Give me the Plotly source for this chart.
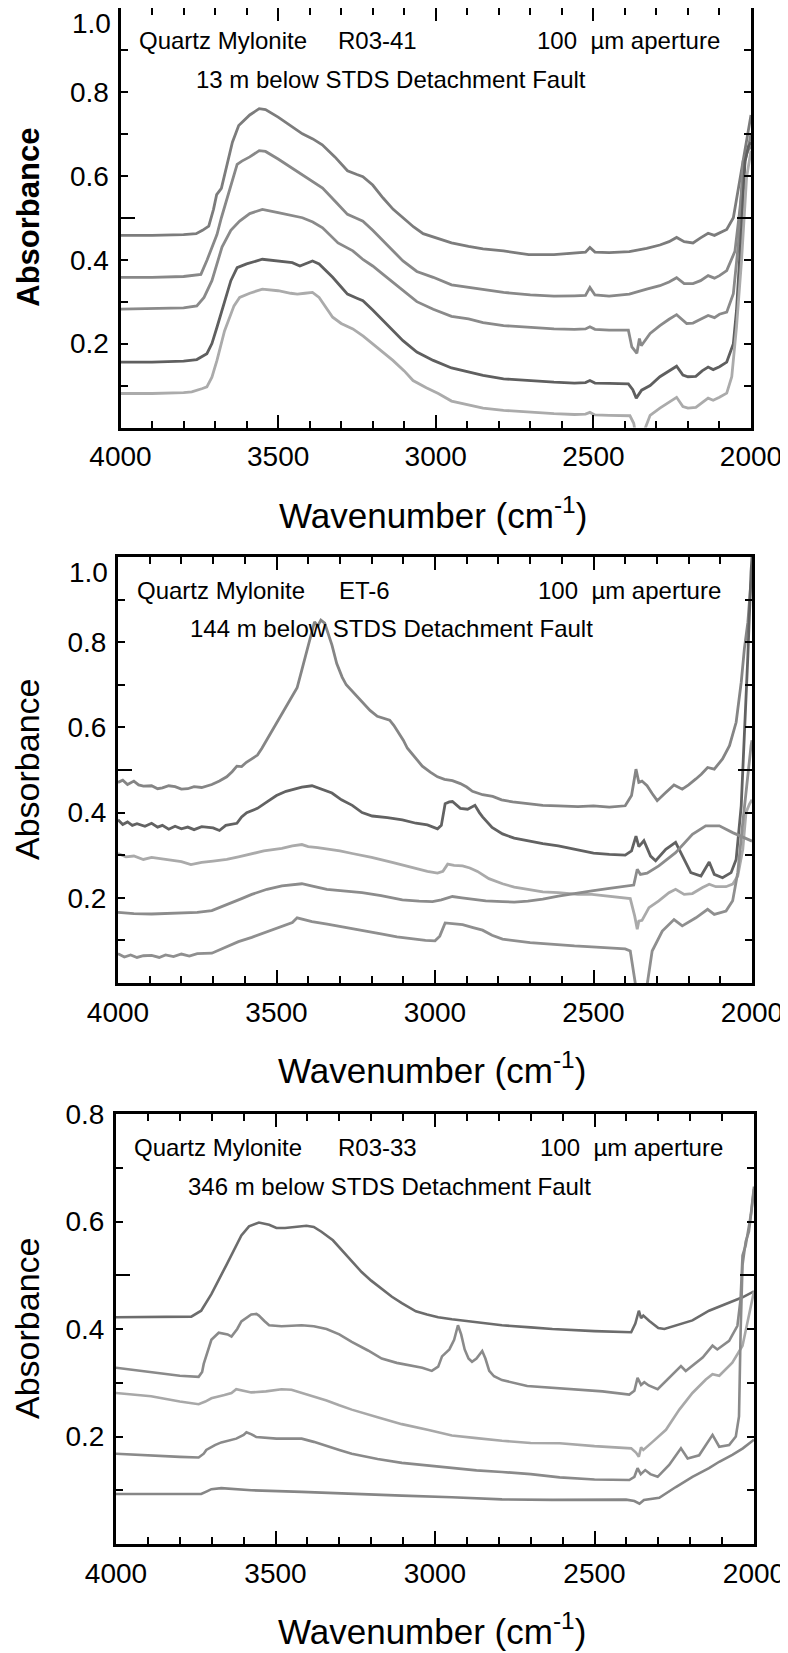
import plotly.graph_objects as go

# page is 788x1653; the html body adds an 8px margin, so the figure is
# drawn 8px in from the top-left corner of the page.
PAGE_W, PAGE_H = 788, 1653
OFF = 8
W, H = PAGE_W - OFF, PAGE_H - OFF

# ================= Panel 1 : R03-41 (13 m below STDS) =================
p1_a_wn = [4000, 3900, 3800, 3760, 3740, 3720, 3705, 3695, 3680, 3665, 3645, 3625, 3610, 3590, 3560, 3540, 3500, 3460, 3423, 3390, 3360, 3320, 3280, 3250, 3231, 3200, 3167, 3135, 3104, 3070, 3040, 3000, 2950, 2896, 2850, 2785, 2705, 2625, 2560, 2525, 2511, 2495, 2450, 2386, 2331, 2289, 2260, 2236, 2212, 2184, 2160, 2136, 2116, 2100, 2077, 2056, 2040, 2026, 2013, 2005, 2000]
p1_a_ab = [0.458, 0.458, 0.460, 0.462, 0.470, 0.480, 0.520, 0.555, 0.570, 0.620, 0.680, 0.720, 0.730, 0.745, 0.760, 0.758, 0.740, 0.720, 0.700, 0.688, 0.674, 0.645, 0.612, 0.603, 0.598, 0.578, 0.547, 0.520, 0.500, 0.478, 0.462, 0.452, 0.440, 0.432, 0.426, 0.421, 0.412, 0.412, 0.416, 0.418, 0.429, 0.418, 0.417, 0.419, 0.427, 0.435, 0.443, 0.453, 0.443, 0.440, 0.452, 0.463, 0.458, 0.464, 0.472, 0.500, 0.571, 0.635, 0.690, 0.720, 0.745]

p1_b_wn = [4000, 3900, 3800, 3745, 3725, 3705, 3694, 3680, 3660, 3640, 3630, 3615, 3590, 3560, 3540, 3500, 3460, 3423, 3390, 3359, 3320, 3280, 3250, 3231, 3200, 3167, 3135, 3104, 3060, 3008, 2950, 2896, 2850, 2785, 2700, 2625, 2560, 2525, 2511, 2495, 2450, 2386, 2331, 2289, 2260, 2236, 2212, 2184, 2160, 2136, 2116, 2100, 2077, 2051, 2036, 2019, 2008, 2000]
p1_b_ab = [0.358, 0.358, 0.360, 0.365, 0.400, 0.440, 0.460, 0.500, 0.550, 0.600, 0.627, 0.635, 0.645, 0.660, 0.658, 0.640, 0.620, 0.603, 0.585, 0.571, 0.540, 0.508, 0.498, 0.492, 0.470, 0.445, 0.420, 0.397, 0.372, 0.358, 0.340, 0.334, 0.328, 0.322, 0.316, 0.313, 0.314, 0.315, 0.334, 0.316, 0.313, 0.318, 0.330, 0.338, 0.347, 0.357, 0.343, 0.343, 0.350, 0.362, 0.356, 0.362, 0.374, 0.420, 0.516, 0.635, 0.670, 0.700]

p1_c_wn = [4000, 3900, 3800, 3758, 3735, 3710, 3695, 3678, 3650, 3622, 3590, 3550, 3500, 3460, 3423, 3390, 3359, 3310, 3263, 3230, 3200, 3167, 3135, 3104, 3060, 3008, 2950, 2896, 2850, 2785, 2700, 2625, 2560, 2525, 2511, 2495, 2450, 2389, 2378, 2362, 2354, 2348, 2320, 2289, 2260, 2236, 2204, 2184, 2160, 2136, 2116, 2100, 2077, 2056, 2040, 2025, 2010, 2000]
p1_c_ab = [0.282, 0.283, 0.285, 0.290, 0.310, 0.350, 0.390, 0.430, 0.470, 0.492, 0.510, 0.520, 0.512, 0.505, 0.500, 0.490, 0.476, 0.440, 0.421, 0.400, 0.385, 0.365, 0.345, 0.326, 0.300, 0.282, 0.265, 0.259, 0.250, 0.243, 0.238, 0.235, 0.234, 0.235, 0.240, 0.234, 0.232, 0.232, 0.192, 0.177, 0.212, 0.195, 0.224, 0.243, 0.258, 0.269, 0.248, 0.249, 0.258, 0.267, 0.262, 0.270, 0.275, 0.319, 0.438, 0.635, 0.660, 0.670]

p1_d_wn = [4000, 3900, 3800, 3758, 3726, 3710, 3694, 3670, 3650, 3630, 3600, 3550, 3500, 3455, 3431, 3410, 3391, 3370, 3327, 3300, 3280, 3250, 3231, 3200, 3167, 3135, 3104, 3060, 3008, 2950, 2896, 2850, 2785, 2700, 2625, 2560, 2525, 2511, 2495, 2450, 2389, 2375, 2364, 2347, 2320, 2289, 2260, 2236, 2216, 2200, 2175, 2155, 2136, 2120, 2100, 2077, 2056, 2046, 2030, 2019, 2008, 2000]
p1_d_ab = [0.156, 0.156, 0.158, 0.162, 0.176, 0.200, 0.239, 0.300, 0.350, 0.381, 0.390, 0.401, 0.397, 0.393, 0.385, 0.392, 0.397, 0.390, 0.358, 0.335, 0.318, 0.308, 0.302, 0.280, 0.255, 0.230, 0.207, 0.180, 0.160, 0.142, 0.132, 0.124, 0.116, 0.111, 0.108, 0.106, 0.107, 0.112, 0.106, 0.105, 0.104, 0.090, 0.070, 0.089, 0.100, 0.121, 0.134, 0.146, 0.125, 0.121, 0.122, 0.135, 0.144, 0.138, 0.145, 0.156, 0.200, 0.279, 0.477, 0.635, 0.670, 0.680]

p1_e_wn = [4000, 3900, 3800, 3774, 3740, 3726, 3710, 3694, 3670, 3640, 3622, 3590, 3550, 3500, 3460, 3439, 3415, 3391, 3370, 3327, 3300, 3263, 3230, 3199, 3170, 3136, 3100, 3072, 3030, 2992, 2950, 2896, 2850, 2785, 2700, 2625, 2560, 2525, 2511, 2495, 2450, 2384, 2372, 2365, 2350, 2340, 2320, 2289, 2260, 2236, 2216, 2200, 2175, 2155, 2136, 2120, 2100, 2077, 2061, 2046, 2030, 2014, 2005, 2000]
p1_e_ab = [0.081, 0.081, 0.083, 0.085, 0.093, 0.097, 0.120, 0.160, 0.230, 0.290, 0.310, 0.320, 0.330, 0.326, 0.320, 0.318, 0.320, 0.322, 0.310, 0.263, 0.248, 0.235, 0.218, 0.199, 0.180, 0.160, 0.135, 0.112, 0.095, 0.081, 0.063, 0.053, 0.046, 0.041, 0.036, 0.033, 0.031, 0.032, 0.036, 0.030, 0.029, 0.028, 0.010, -0.020, -0.030, -0.010, 0.029, 0.046, 0.060, 0.072, 0.050, 0.046, 0.048, 0.060, 0.070, 0.065, 0.072, 0.082, 0.121, 0.239, 0.398, 0.596, 0.640, 0.660]

# ================= Panel 2 : ET-6 (144 m below STDS) =================
p2_a_wn = [4000, 3985, 3970, 3950, 3935, 3920, 3894, 3875, 3860, 3840, 3820, 3800, 3780, 3760, 3736, 3704, 3680, 3657, 3640, 3625, 3610, 3595, 3578, 3560, 3546, 3525, 3506, 3490, 3467, 3450, 3435, 3420, 3408, 3396, 3388, 3380, 3370, 3360, 3348, 3336, 3325, 3310, 3293, 3280, 3261, 3245, 3230, 3205, 3182, 3160, 3143, 3130, 3119, 3100, 3087, 3065, 3040, 3015, 2992, 2970, 2945, 2920, 2900, 2882, 2850, 2818, 2790, 2755, 2700, 2660, 2611, 2549, 2500, 2450, 2400, 2380, 2366, 2357, 2347, 2331, 2315, 2299, 2272, 2246, 2220, 2200, 2177, 2160, 2140, 2119, 2093, 2071, 2050, 2034, 2024, 2013, 2005, 2000]
p2_a_ab = [0.471, 0.476, 0.466, 0.474, 0.465, 0.462, 0.463, 0.456, 0.458, 0.463, 0.461, 0.455, 0.456, 0.461, 0.459, 0.466, 0.474, 0.484, 0.496, 0.509, 0.508, 0.518, 0.526, 0.535, 0.551, 0.578, 0.601, 0.620, 0.651, 0.672, 0.693, 0.735, 0.770, 0.802, 0.830, 0.848, 0.838, 0.852, 0.845, 0.820, 0.793, 0.750, 0.718, 0.700, 0.685, 0.670, 0.659, 0.640, 0.626, 0.620, 0.617, 0.605, 0.592, 0.570, 0.551, 0.530, 0.509, 0.495, 0.484, 0.478, 0.475, 0.468, 0.460, 0.450, 0.442, 0.438, 0.430, 0.425, 0.420, 0.417, 0.416, 0.414, 0.416, 0.413, 0.416, 0.440, 0.502, 0.471, 0.474, 0.463, 0.445, 0.428, 0.447, 0.465, 0.455, 0.465, 0.479, 0.490, 0.506, 0.502, 0.526, 0.557, 0.612, 0.706, 0.785, 0.847, 0.926, 0.960]

p2_b_wn = [4000, 3985, 3970, 3955, 3940, 3915, 3894, 3875, 3860, 3840, 3820, 3800, 3780, 3760, 3736, 3700, 3680, 3660, 3625, 3610, 3594, 3560, 3530, 3500, 3470, 3451, 3420, 3388, 3360, 3325, 3295, 3261, 3230, 3198, 3150, 3103, 3060, 3024, 2992, 2980, 2968, 2955, 2945, 2920, 2897, 2874, 2860, 2850, 2820, 2787, 2750, 2707, 2660, 2611, 2549, 2500, 2450, 2400, 2380, 2366, 2357, 2341, 2320, 2304, 2272, 2241, 2214, 2193, 2161, 2135, 2119, 2093, 2066, 2050, 2034, 2024, 2013, 2003, 2000]
p2_b_ab = [0.383, 0.372, 0.378, 0.370, 0.374, 0.368, 0.375, 0.366, 0.370, 0.361, 0.368, 0.362, 0.366, 0.360, 0.367, 0.364, 0.358, 0.370, 0.375, 0.390, 0.400, 0.410, 0.425, 0.440, 0.450, 0.454, 0.460, 0.463, 0.455, 0.446, 0.430, 0.417, 0.400, 0.392, 0.388, 0.383, 0.375, 0.371, 0.362, 0.370, 0.421, 0.425, 0.426, 0.410, 0.408, 0.417, 0.400, 0.390, 0.365, 0.350, 0.340, 0.333, 0.327, 0.322, 0.312, 0.305, 0.302, 0.300, 0.310, 0.345, 0.320, 0.334, 0.298, 0.287, 0.314, 0.330, 0.290, 0.259, 0.251, 0.284, 0.255, 0.247, 0.259, 0.290, 0.416, 0.573, 0.769, 0.965, 1.000]

p2_c_wn = [4000, 3975, 3950, 3920, 3894, 3850, 3800, 3770, 3736, 3700, 3657, 3620, 3578, 3540, 3483, 3450, 3420, 3400, 3370, 3341, 3300, 3261, 3200, 3135, 3080, 3024, 2992, 2975, 2960, 2940, 2913, 2890, 2866, 2830, 2787, 2750, 2707, 2660, 2611, 2549, 2505, 2450, 2400, 2384, 2370, 2362, 2357, 2347, 2325, 2294, 2262, 2241, 2214, 2188, 2156, 2135, 2114, 2082, 2061, 2045, 2029, 2019, 2008, 2000]
p2_c_ab = [0.304, 0.296, 0.298, 0.290, 0.295, 0.290, 0.285, 0.278, 0.283, 0.286, 0.290, 0.296, 0.304, 0.310, 0.316, 0.322, 0.325, 0.320, 0.318, 0.315, 0.310, 0.304, 0.295, 0.283, 0.272, 0.262, 0.258, 0.262, 0.279, 0.276, 0.275, 0.270, 0.262, 0.245, 0.233, 0.225, 0.220, 0.214, 0.212, 0.208, 0.208, 0.204, 0.200, 0.198, 0.157, 0.126, 0.145, 0.147, 0.177, 0.193, 0.212, 0.220, 0.208, 0.210, 0.224, 0.232, 0.226, 0.226, 0.232, 0.251, 0.314, 0.400, 0.420, 0.430]

p2_d_wn = [4000, 3950, 3894, 3850, 3800, 3750, 3704, 3670, 3641, 3610, 3578, 3530, 3483, 3450, 3420, 3390, 3341, 3290, 3230, 3170, 3103, 3050, 3008, 2980, 2960, 2945, 2915, 2882, 2840, 2787, 2750, 2707, 2660, 2611, 2549, 2505, 2450, 2400, 2373, 2362, 2352, 2331, 2294, 2241, 2188, 2146, 2103, 2061, 2029, 2000]
p2_d_ab = [0.166, 0.163, 0.162, 0.163, 0.164, 0.166, 0.170, 0.180, 0.187, 0.198, 0.208, 0.220, 0.228, 0.230, 0.233, 0.228, 0.220, 0.216, 0.212, 0.205, 0.195, 0.192, 0.191, 0.195, 0.200, 0.203, 0.200, 0.197, 0.193, 0.191, 0.190, 0.192, 0.197, 0.204, 0.210, 0.216, 0.222, 0.228, 0.230, 0.267, 0.255, 0.258, 0.275, 0.306, 0.349, 0.369, 0.369, 0.353, 0.342, 0.333]

p2_e_wn = [4000, 3980, 3960, 3940, 3920, 3894, 3870, 3850, 3825, 3800, 3775, 3750, 3704, 3680, 3657, 3620, 3578, 3530, 3483, 3450, 3435, 3410, 3388, 3340, 3293, 3230, 3166, 3120, 3071, 3030, 3000, 2985, 2968, 2945, 2913, 2880, 2850, 2820, 2787, 2700, 2628, 2560, 2505, 2450, 2400, 2384, 2373, 2362, 2345, 2330, 2315, 2283, 2246, 2220, 2177, 2140, 2119, 2082, 2061, 2045, 2029, 2013, 2003, 2000]
p2_e_ab = [0.069, 0.061, 0.066, 0.060, 0.064, 0.065, 0.060, 0.066, 0.062, 0.068, 0.063, 0.069, 0.070, 0.078, 0.086, 0.097, 0.107, 0.120, 0.132, 0.142, 0.153, 0.148, 0.144, 0.138, 0.132, 0.123, 0.115, 0.108, 0.103, 0.100, 0.099, 0.110, 0.141, 0.139, 0.137, 0.130, 0.124, 0.112, 0.103, 0.095, 0.090, 0.087, 0.085, 0.082, 0.080, 0.075, 0.020, -0.030, -0.030, 0.000, 0.075, 0.122, 0.149, 0.134, 0.153, 0.173, 0.161, 0.169, 0.193, 0.259, 0.377, 0.495, 0.557, 0.570]

# ================= Panel 3 : R03-33 (346 m below STDS) =================
p3_a_wn = [4000, 3764, 3733, 3701, 3654, 3607, 3583, 3552, 3520, 3497, 3470, 3450, 3403, 3380, 3356, 3320, 3293, 3260, 3230, 3200, 3167, 3135, 3104, 3060, 3025, 2990, 2947, 2870, 2790, 2700, 2632, 2500, 2385, 2372, 2361, 2354, 2347, 2328, 2300, 2281, 2245, 2193, 2141, 2089, 2036, 2000]
p3_a_ab = [0.422, 0.423, 0.434, 0.465, 0.519, 0.574, 0.591, 0.598, 0.594, 0.588, 0.588, 0.589, 0.592, 0.590, 0.581, 0.565, 0.547, 0.527, 0.506, 0.490, 0.475, 0.460, 0.448, 0.433, 0.427, 0.422, 0.418, 0.413, 0.407, 0.403, 0.400, 0.396, 0.394, 0.410, 0.434, 0.420, 0.425, 0.415, 0.402, 0.400, 0.406, 0.416, 0.434, 0.447, 0.459, 0.470]

p3_b_wn = [4000, 3890, 3800, 3741, 3730, 3725, 3701, 3678, 3650, 3638, 3620, 3607, 3576, 3560, 3552, 3535, 3520, 3481, 3418, 3380, 3340, 3300, 3261, 3210, 3167, 3120, 3073, 3040, 3010, 2990, 2978, 2955, 2940, 2928, 2918, 2907, 2895, 2884, 2870, 2852, 2842, 2830, 2815, 2790, 2711, 2632, 2475, 2391, 2375, 2365, 2354, 2344, 2330, 2302, 2266, 2229, 2214, 2161, 2130, 2115, 2078, 2052, 2042, 2036, 2026, 2010, 2000]
p3_b_ab = [0.328, 0.320, 0.313, 0.311, 0.320, 0.335, 0.380, 0.393, 0.390, 0.386, 0.400, 0.414, 0.427, 0.428, 0.425, 0.415, 0.407, 0.405, 0.407, 0.405, 0.400, 0.390, 0.376, 0.360, 0.345, 0.337, 0.332, 0.328, 0.322, 0.330, 0.349, 0.362, 0.380, 0.407, 0.390, 0.362, 0.345, 0.339, 0.345, 0.359, 0.345, 0.322, 0.312, 0.305, 0.294, 0.291, 0.284, 0.278, 0.285, 0.309, 0.296, 0.301, 0.295, 0.288, 0.309, 0.331, 0.322, 0.347, 0.369, 0.362, 0.378, 0.406, 0.456, 0.537, 0.556, 0.612, 0.665]

p3_c_wn = [4000, 3890, 3800, 3741, 3720, 3701, 3660, 3638, 3623, 3600, 3576, 3530, 3481, 3450, 3418, 3380, 3340, 3300, 3261, 3180, 3104, 3020, 2947, 2870, 2790, 2700, 2609, 2500, 2385, 2370, 2361, 2354, 2347, 2318, 2276, 2234, 2193, 2151, 2130, 2109, 2068, 2036, 2016, 2005, 2000]
p3_c_ab = [0.281, 0.275, 0.265, 0.260, 0.265, 0.271, 0.277, 0.281, 0.288, 0.285, 0.282, 0.284, 0.288, 0.287, 0.281, 0.275, 0.267, 0.258, 0.250, 0.236, 0.223, 0.212, 0.202, 0.197, 0.192, 0.188, 0.1875, 0.182, 0.178, 0.170, 0.1625, 0.180, 0.175, 0.190, 0.2125, 0.250, 0.281, 0.306, 0.316, 0.313, 0.3375, 0.369, 0.425, 0.460, 0.470]

p3_d_wn = [4000, 3890, 3800, 3741, 3725, 3717, 3690, 3670, 3623, 3600, 3591, 3575, 3560, 3497, 3418, 3380, 3340, 3300, 3261, 3180, 3104, 3020, 2947, 2870, 2790, 2700, 2609, 2500, 2391, 2375, 2365, 2355, 2341, 2325, 2302, 2266, 2229, 2208, 2172, 2146, 2130, 2109, 2078, 2057, 2047, 2042, 2036, 2026, 2016, 2008, 2000]
p3_d_ab = [0.168, 0.164, 0.162, 0.161, 0.168, 0.175, 0.184, 0.189, 0.196, 0.203, 0.208, 0.204, 0.199, 0.196, 0.196, 0.190, 0.182, 0.175, 0.168, 0.158, 0.151, 0.146, 0.141, 0.137, 0.134, 0.130, 0.124, 0.120, 0.119, 0.125, 0.141, 0.130, 0.1375, 0.130, 0.125, 0.147, 0.178, 0.159, 0.165, 0.1875, 0.203, 0.181, 0.184, 0.200, 0.2375, 0.394, 0.519, 0.5625, 0.581, 0.620, 0.660]

p3_e_wn = [4000, 3800, 3733, 3715, 3701, 3670, 3640, 3576, 3418, 3261, 3104, 2947, 2790, 2632, 2500, 2401, 2375, 2359, 2345, 2297, 2245, 2193, 2141, 2109, 2068, 2035, 2000]
p3_e_ab = [0.093, 0.093, 0.093, 0.098, 0.102, 0.104, 0.103, 0.100, 0.097, 0.093, 0.090, 0.087, 0.083, 0.082, 0.0825, 0.0825, 0.080, 0.075, 0.082, 0.086, 0.106, 0.125, 0.141, 0.153, 0.166, 0.178, 0.194]

# ---- tick labels / text ----
x_tick_vals = [4000, 3500, 3000, 2500, 2000]
x_tick_text = ["4000", "3500", "3000", "2500", "2000"]
x_minor_vals = [3900, 3800, 3700, 3600, 3400, 3300, 3200, 3100, 2900, 2800, 2700, 2600, 2400, 2300, 2200, 2100]
y_tick_vals = [0.2, 0.4, 0.6, 0.8]
y_tick_text = ["0.2", "0.4", "0.6", "0.8"]
y_minor_vals = [0.1, 0.3, 0.5, 0.7, 0.9]
y_long_vals = [0.5]
top_label = "1.0"

sample_ids = ["R03-41", "ET-6", "R03-33"]
depth_text = ["13 m below STDS Detachment Fault",
              "144 m below STDS Detachment Fault",
              "346 m below STDS Detachment Fault"]
rock_text = "Quartz Mylonite"
aperture_text = "100  \u00b5m aperture"
x_title = "Wavenumber (cm<sup>-1</sup>)"
y_title = "Absorbance"

# ---------------- layout geometry (page pixels) ----------------
panels = [
    dict(l=120.5, r=751, t=8, b=427.5, ymax=1.0,
         series=[(p1_a_wn, p1_a_ab, "#7c7c7c"), (p1_b_wn, p1_b_ab, "#888888"),
                 (p1_c_wn, p1_c_ab, "#8a8a8a"), (p1_d_wn, p1_d_ab, "#5f5f5f"),
                 (p1_e_wn, p1_e_ab, "#ababab")],
         lw=2.8, ybold=True, ytsize=31, ytx=29, text_x=[137, 336, 535, 194]),
    dict(l=118, r=752, t=557, b=983, ymax=1.0,
         series=[(p2_a_wn, p2_a_ab, "#858585"), (p2_b_wn, p2_b_ab, "#626262"),
                 (p2_c_wn, p2_c_ab, "#aaaaaa"), (p2_d_wn, p2_d_ab, "#8c8c8c"),
                 (p2_e_wn, p2_e_ab, "#8f8f8f")],
         lw=2.8, ybold=False, ytsize=34, ytx=27, text_x=[135, 337, 536, 188]),
    dict(l=116, r=754, t=1114, b=1544, ymax=0.8,
         series=[(p3_a_wn, p3_a_ab, "#6c6c6c"), (p3_b_wn, p3_b_ab, "#8a8a8a"),
                 (p3_c_wn, p3_c_ab, "#a8a8a8"), (p3_d_wn, p3_d_ab, "#8a8a8a"),
                 (p3_e_wn, p3_e_ab, "#868686")],
         lw=2.6, ybold=False, ytsize=34, ytx=27, text_x=[132, 336, 538, 186]),
]

FONT = "Liberation Sans, Arial, sans-serif"

def px(x):
    return min(1.0, max(0.0, (x - OFF) / W))

def py(y):
    return min(1.0, max(0.0, 1 - (y - OFF) / H))

fig = go.Figure()
layout = dict(width=W, height=H, margin=dict(l=0, r=0, t=0, b=0),
              paper_bgcolor="white", plot_bgcolor="white", showlegend=False)
annotations = []

for i, p in enumerate(panels):
    n = i + 1
    xa = "x" if n == 1 else f"x{n}"
    ya = "y" if n == 1 else f"y{n}"
    for wn, ab, col in p["series"]:
        fig.add_trace(go.Scatter(x=wn, y=ab, mode="lines", xaxis=xa, yaxis=ya,
                                 line=dict(color=col, width=p["lw"]),
                                 hoverinfo="skip"))
    xdom = [px(p["l"]), px(p["r"])]
    ydom = [py(p["b"]), py(p["t"])]
    layout[f"xaxis{'' if n == 1 else n}"] = dict(
        domain=xdom, anchor=ya, range=[4000, 2000], autorange=False,
        showline=True, linecolor="black", linewidth=3, mirror="ticks",
        ticks="inside", ticklen=13, tickwidth=2, tickcolor="black",
        tickmode="array", tickvals=x_tick_vals, ticktext=x_tick_text,
        tickfont=dict(family=FONT, size=28, color="black"),
        ticklabelstandoff=2,
        minor=dict(tickmode="array", tickvals=x_minor_vals, ticks="inside",
                   ticklen=7, tickwidth=2, tickcolor="black"),
        showgrid=False, zeroline=False, automargin=False, fixedrange=True)
    layout[f"yaxis{'' if n == 1 else n}"] = dict(
        domain=ydom, anchor=xa, range=[0, p["ymax"]], autorange=False,
        showline=True, linecolor="black", linewidth=3, mirror="ticks",
        ticks="inside", ticklen=7, tickwidth=2, tickcolor="black",
        tickmode="array", tickvals=y_tick_vals, ticktext=y_tick_text,
        tickfont=dict(family=FONT, size=28, color="black"),
        ticklabelstandoff=3,
        minor=dict(tickmode="array", tickvals=[v for v in y_minor_vals if v < p["ymax"]],
                   ticks="inside", ticklen=7, tickwidth=2, tickcolor="black"),
        showgrid=False, zeroline=False, automargin=False, fixedrange=True)
    # overlay axis carrying the long ticks at 0.5
    layout[f"yaxis{n + 3}"] = dict(
        overlaying=ya, anchor=xa, range=[0, p["ymax"]], autorange=False,
        showline=False, mirror="ticks", ticks="inside", ticklen=14, tickwidth=2,
        tickcolor="black", tickmode="array", tickvals=y_long_vals,
        showticklabels=False, showgrid=False, zeroline=False,
        automargin=False, fixedrange=True)
    fig.add_trace(go.Scatter(x=[None], y=[None], xaxis=xa, yaxis=f"y{n + 3}",
                             mode="lines", hoverinfo="skip"))

    # "1.0" label sits slightly below the top frame
    if p["ymax"] >= 1.0:
        annotations.append(dict(text=top_label, xref="paper", yref="paper",
                                x=px(p["l"] - 8), y=py(p["t"] + 15),
                                xanchor="right", yanchor="middle", showarrow=False,
                                font=dict(family=FONT, size=28, color="black")))
    tx = p["text_x"]
    y1 = p["t"] + 33
    y2 = p["t"] + 72
    for txt, xx, yy in [(rock_text, tx[0], y1), (sample_ids[i], tx[1], y1),
                        (aperture_text, tx[2], y1), (depth_text[i], tx[3], y2)]:
        annotations.append(dict(text=txt, xref="paper", yref="paper",
                                x=px(xx), y=py(yy), xanchor="left", yanchor="middle",
                                showarrow=False,
                                font=dict(family=FONT, size=24, color="black")))
    # axis titles
    annotations.append(dict(text=x_title, xref="paper", yref="paper",
                            x=px((p["l"] + p["r"]) / 2 - 3), y=py(p["b"] + 85),
                            xanchor="center", yanchor="middle", showarrow=False,
                            font=dict(family=FONT, size=35, color="black")))
    ytxt = f"<b>{y_title}</b>" if p["ybold"] else y_title
    annotations.append(dict(text=ytxt, xref="paper", yref="paper",
                            x=px(p["ytx"]), y=py((p["t"] + p["b"]) / 2),
                            xanchor="center", yanchor="middle", textangle=-90,
                            showarrow=False,
                            font=dict(family=FONT, size=p["ytsize"], color="black")))

layout["annotations"] = annotations
fig.update_layout(**layout)
fig.write_html("out.html")
